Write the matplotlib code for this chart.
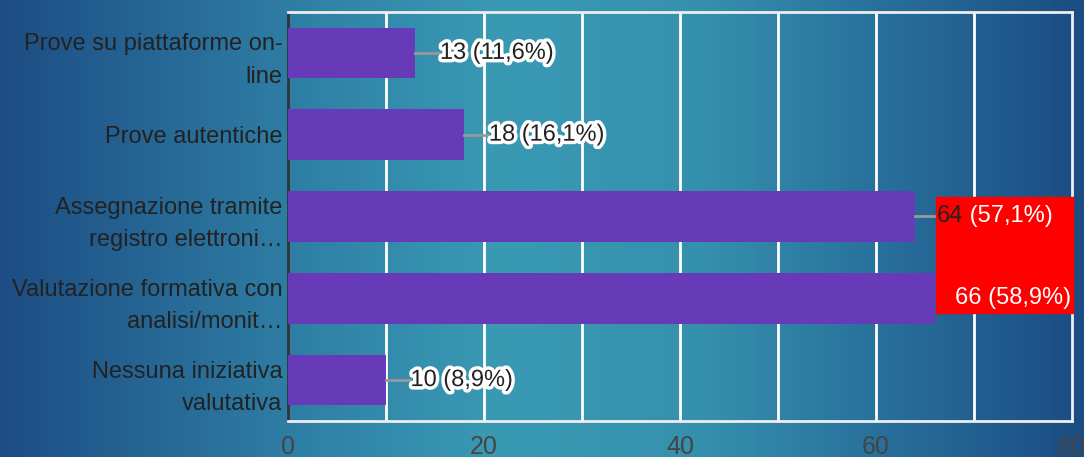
import matplotlib.pyplot as plt
import matplotlib.patheffects as pe
from matplotlib.colors import LinearSegmentedColormap
from matplotlib.patches import Rectangle
import numpy as np

plt.rcParams['font.family'] = ['Liberation Sans', 'DejaVu Sans']

categories = ['Prove su piattaforme on-\nline', 'Prove autentiche',
              'Assegnazione tramite\nregistro elettroni…',
              'Valutazione formativa con\nanalisi/monit…',
              'Nessuna iniziativa\nvalutativa']
counts = [13, 18, 64, 66, 10]
percents = ['11,6%', '16,1%', '57,1%', '58,9%', '8,9%']
xticks = [0, 20, 40, 60, 80]

fig = plt.figure(figsize=(10.84, 4.57), dpi=100)

# background gradient
bg = fig.add_axes([0, 0, 1, 1], zorder=-10)
cmap = LinearSegmentedColormap.from_list('bg', [(0, '#1d4d84'), (0.28, '#2f80a6'), (0.46, '#3a9ab4'),
                                                (0.65, '#3590ad'), (0.83, '#276d9a'), (1, '#1b4c82')])
bg.imshow(np.linspace(0, 1, 512)[None, :], aspect='auto', cmap=cmap, extent=[0, 1, 0, 1])
bg.axis('off')

ax = fig.add_axes([288 / 1084, 1 - 421 / 457, (1072 - 288) / 1084, (421 - 12) / 457])
ax.set_facecolor('none')
y = np.arange(len(categories))
ax.barh(y, counts, height=0.62, color='#673ab7', zorder=3)
ax.set_xlim(0, 80)
ax.set_ylim(4.5, -0.5)
ax.set_xticks(xticks)
for v in range(10, 80, 10):
    ax.axvline(v, color='white', lw=2, zorder=1)
ax.set_yticks(y)
ax.set_yticklabels(categories, fontsize=17, color='#222222', linespacing=1.6)
ax.tick_params(axis='y', length=0, pad=4)
ax.tick_params(axis='x', length=0, pad=10, labelsize=18, labelcolor='#444444')
for s in ['top', 'right', 'bottom']:
    ax.spines[s].set_color('#eeeeee')
    ax.spines[s].set_linewidth(2)
ax.spines['left'].set_color('#333333')
ax.spines['left'].set_linewidth(2)

stroke = [pe.withStroke(linewidth=5, foreground='white')]
for i, (c, p) in enumerate(zip(counts, percents)):
    if i == 3:
        continue
    ax.plot([c, c + 2.4], [i, i], color='#999999', lw=2, zorder=4, clip_on=False)
    if i == 2:
        continue
    ax.text(c + 2.5, i, f'{c} ({p})', va='center', ha='left', fontsize=17,
            color='#222222', path_effects=stroke, zorder=5)

# highlighted label box
ax.add_patch(Rectangle((66.1, 1.76), 14.0, 1.42, color='#ff0000', zorder=6, clip_on=False))
t = ax.text(66.2, 2, f'{counts[2]}', va='center', ha='left', fontsize=17, color='#222222', zorder=7)
ax.annotate(f' ({percents[2]})', xycoords=t, xy=(1, 0.5), va='center', ha='left',
            fontsize=17, color='white', zorder=7)
ax.text(79.9, 3, f'{counts[3]} ({percents[3]})', va='center', ha='right', fontsize=17,
        color='white', zorder=7)

fig.savefig('out.png', dpi=100)
